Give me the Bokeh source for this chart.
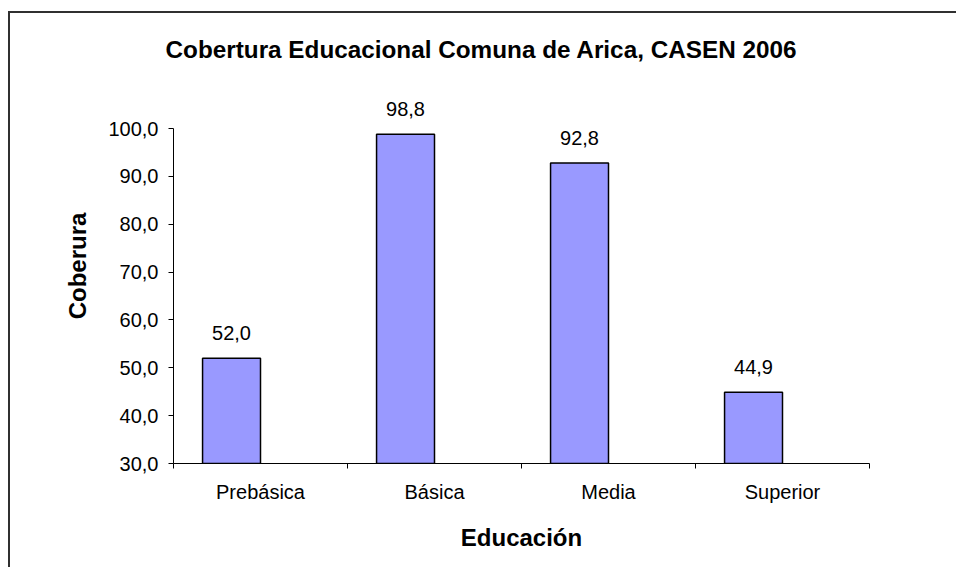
from bokeh.plotting import figure
from bokeh.models import Range1d, FixedTicker, ColumnDataSource
from bokeh.core.properties import value
from bokeh.transform import dodge
from bokeh.embed import file_html
from bokeh.resources import INLINE

categories = ["Prebásica", "Básica", "Media", "Superior"]
coverage = [52.0, 98.8, 92.8, 44.9]
y_ticks = [30, 40, 50, 60, 70, 80, 90, 100]

def fmt(v):
    return f"{v:.1f}".replace(".", ",")

FONT = "Liberation Sans"
BAR_W = 0.333

src = ColumnDataSource(dict(
    x=[i + 0.5 for i in range(len(categories))],
    top=coverage,
    label=[fmt(v) for v in coverage],
))

p = figure(width=948, height=556, output_backend="svg", toolbar_location=None,
           x_range=Range1d(0, len(categories)), y_range=Range1d(30, 112.54),
           title="Cobertura Educacional Comuna de Arica, CASEN 2006",
           min_border_left=163, min_border_top=55, min_border_right=89,
           min_border_bottom=106)
p.margin = (11, 0, 0, 8)
p.styles = {"border-top": "2px solid #303030", "border-left": "2px solid #303030"}

p.title.align = "left"
p.title.offset = -8
p.title.standoff = 12
p.title.text_font = FONT
p.title.text_font_size = "24.3px"
p.title.text_font_style = "bold"
p.title.text_color = "black"

xd = dodge("x", -BAR_W / 2, range=p.x_range)
p.vbar(x=xd, top="top", bottom=30, width=BAR_W, source=src,
       fill_color="#9999FF", line_color="black", line_width=1.5)
p.text(x=xd, y="top", text="label", source=src, text_align="center",
       text_baseline="middle", y_offset=-25, text_font=value(FONT),
       text_font_size="20px", text_color="black")

p.xgrid.visible = False
p.ygrid.visible = False
p.outline_line_color = None

xa = p.xaxis[0]
xa.ticker = FixedTicker(ticks=[i + 0.5 for i in range(len(categories))],
                        minor_ticks=list(range(len(categories) + 1)))
xa.major_label_overrides = {i + 0.5: c for i, c in enumerate(categories)}
xa.major_tick_out = 0
xa.major_tick_in = 0
xa.minor_tick_out = 5
xa.minor_tick_in = 0
xa.minor_tick_line_color = "black"
xa.axis_line_color = "black"
xa.major_label_text_font = FONT
xa.major_label_text_font_size = "20px"
xa.major_label_text_color = "black"
xa.major_label_standoff = 12
xa.axis_label = "Educación"
xa.axis_label_text_font = FONT
xa.axis_label_text_font_size = "24px"
xa.axis_label_text_font_style = "bold"
xa.axis_label_text_color = "black"
xa.axis_label_standoff = 18

ya = p.yaxis[0]
ya.ticker = FixedTicker(ticks=y_ticks, minor_ticks=[])
ya.bounds = (30, 100)
ya.major_label_overrides = {t: fmt(t) for t in y_ticks}
ya.major_tick_out = 5
ya.major_tick_in = 0
ya.major_tick_line_color = "black"
ya.axis_line_color = "black"
ya.major_label_text_font = FONT
ya.major_label_text_font_size = "20px"
ya.major_label_text_color = "black"
ya.major_label_standoff = 10
ya.axis_label = "Coberura"
ya.axis_label_text_font = FONT
ya.axis_label_text_font_size = "24px"
ya.axis_label_text_font_style = "bold"
ya.axis_label_text_color = "black"
ya.axis_label_standoff = 14

open("out.html", "w").write(file_html(p, INLINE))
